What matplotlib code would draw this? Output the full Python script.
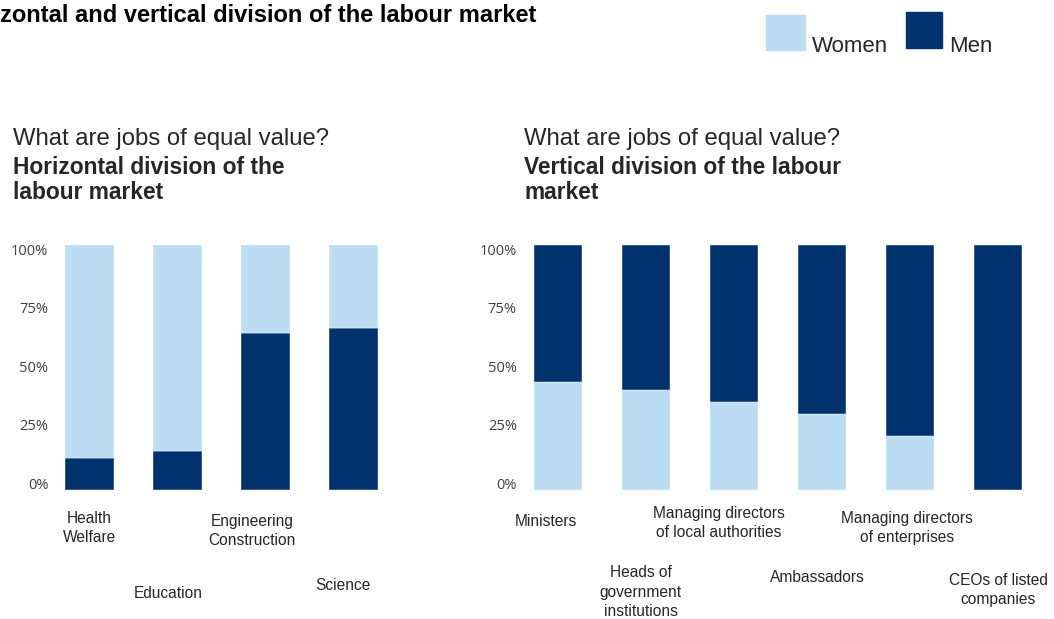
import matplotlib.pyplot as plt
from matplotlib.transforms import blended_transform_factory
from matplotlib.patches import Rectangle

# horizontal division (share of men / women in each field)
fields = ["Health\nWelfare", "Education", "Engineering\nConstruction", "Science"]
fields_men = [0.13, 0.16, 0.64, 0.66]
fields_women = [0.87, 0.84, 0.36, 0.34]

# vertical division (share of women / men in top positions)
posts = ["Ministers", "Heads of\ngovernment\ninstitutions",
         "Managing directors\nof local authorities", "Ambassadors",
         "Managing directors\nof enterprises", "CEOs of listed\ncompanies"]
posts_women = [0.44, 0.41, 0.36, 0.31, 0.22, 0.0]
posts_men = [0.56, 0.59, 0.64, 0.69, 0.78, 1.0]

yticks = [0, 0.25, 0.5, 0.75, 1.0]
ytick_labels = ["0%", "25%", "50%", "75%", "100%"]

LIGHT = "#BBDCF3"
DARK = "#00326E"
TXT = "#262626"
W, H = 1054, 619

# label placement (x nudge in bar units, y in figure pixels from top)
fields_nudge = [0.0, -0.1, -0.15, -0.12]
fields_ypix = [528, 593, 531, 585]
posts_nudge = [-0.14, -0.06, -0.17, -0.05, -0.03, 0.0]
posts_ypix = [522, 592, 523, 578, 528, 590]

plt.rcParams['font.family'] = ['Liberation Sans', 'DejaVu Sans']

fig = plt.figure(figsize=(W / 100, H / 100), dpi=100)
ax1 = fig.add_axes([45.5 / W, 1 - 490 / H, 352 / W, 245 / H])
ax2 = fig.add_axes([514 / W, 1 - 490 / H, 528 / W, 245 / H])


def style(ax, n):
    ax.set_xlim(-0.5, n - 0.5)
    ax.set_ylim(0, 1)
    # the source's tick labels sit on a slightly squeezed scale
    ax.set_yticks([0.028 + v * 0.955 for v in yticks])
    ax.set_yticklabels(ytick_labels, family='Open Sans', fontsize=10.5, color="#404040")
    ax.set_xticks([])
    ax.tick_params(axis='y', length=0, pad=-2)
    for s in ax.spines.values():
        s.set_visible(False)


x1 = range(len(fields))
ax1.bar(x1, fields_men, width=0.56, color=DARK, edgecolor="white", linewidth=0.3)
ax1.bar(x1, fields_women, bottom=fields_men, width=0.56, color=LIGHT,
        edgecolor="white", linewidth=0.3)
style(ax1, len(fields))

x2 = range(len(posts))
ax2.bar(x2, posts_women, width=0.55, color=LIGHT, edgecolor="white", linewidth=0.3)
ax2.bar(x2, posts_men, bottom=posts_women, width=0.55, color=DARK,
        edgecolor="white", linewidth=0.3)
style(ax2, len(posts))

tr1 = blended_transform_factory(ax1.transData, fig.transFigure)
for i, lab in enumerate(fields):
    ax1.text(i + fields_nudge[i], 1 - fields_ypix[i] / H, lab, transform=tr1,
             ha='center', va='center', fontsize=11.2, color=TXT, linespacing=1.35)

tr2 = blended_transform_factory(ax2.transData, fig.transFigure)
for i, lab in enumerate(posts):
    ax2.text(i + posts_nudge[i], 1 - posts_ypix[i] / H, lab, transform=tr2,
             ha='center', va='center', fontsize=11.2, color=TXT, linespacing=1.35)

# subtitles
for xp, bold in [(13, "Horizontal division of the\nlabour market"),
                 (524, "Vertical division of the labour\nmarket")]:
    fig.text(xp / W, 1 - 139 / H, "What are jobs of equal value?", fontsize=17.2,
             color=TXT, va='center')
    fig.text(xp / W, 1 - 180 / H, bold, fontsize=16.4, fontweight='bold',
             color=TXT, va='center', linespacing=1.1)

# main title, as much of it as the source shows (its start is cut off there)
fig.text(0, 1 - 16 / H, "zontal and vertical division of the labour market",
         fontsize=17, fontweight='bold', color="black", ha='left', va='center')

# legend
for x0, y0, w, h, col, lab in [(766, 15, 39, 35, LIGHT, "Women"),
                                (906, 12, 36, 36, DARK, "Men")]:
    fig.patches.append(Rectangle((x0 / W, 1 - (y0 + h) / H), w / W, h / H,
                                 transform=fig.transFigure, color=col))
    fig.text((x0 + w + 7) / W, 1 - 52 / H, lab, fontsize=16, color=TXT,
             ha='left', va='baseline')

fig.savefig("out.png", dpi=100)
